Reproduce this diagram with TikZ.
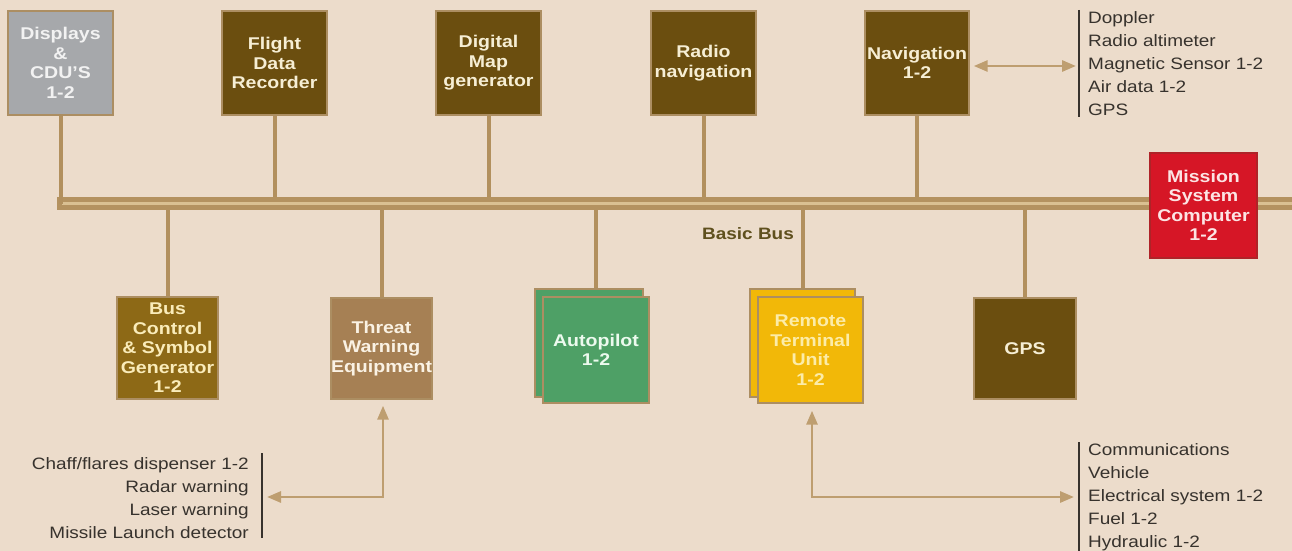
\documentclass[tikz,border=0pt]{standalone}
\usepackage{fontspec}
\setmainfont[FakeStretch=1.15]{Liberation Sans}
\usetikzlibrary{arrows.meta}
\definecolor{bg}{RGB}{236,220,203}
\definecolor{bustan}{RGB}{180,146,96}
\definecolor{buslight}{RGB}{218,192,146}
\definecolor{linetan}{RGB}{178,144,94}
\definecolor{arrowtan}{RGB}{190,158,112}
\definecolor{boxedge}{RGB}{172,142,98}
\definecolor{darkbrown}{RGB}{107,78,15}
\definecolor{greybox}{RGB}{166,168,171}
\definecolor{busctrl}{RGB}{141,105,22}
\definecolor{threatc}{RGB}{166,128,84}
\definecolor{greenbox}{RGB}{78,160,102}
\definecolor{yellowbox}{RGB}{242,184,8}
\definecolor{redbox}{RGB}{214,22,38}
\definecolor{rededge}{RGB}{175,35,40}
\definecolor{cream}{RGB}{246,238,212}
\definecolor{listtext}{RGB}{55,50,45}
\definecolor{buslabel}{RGB}{95,80,30}
\definecolor{greytext}{RGB}{242,242,242}
\definecolor{redtext}{RGB}{252,228,228}
\definecolor{bcstext}{RGB}{250,236,186}
\definecolor{thrtext}{RGB}{250,242,228}
\definecolor{aptext}{RGB}{236,250,238}
\definecolor{rtutext}{RGB}{252,236,168}
\tikzset{
  unit/.style={rectangle, minimum width=105pt, minimum height=104pt, inner sep=0pt,
    draw=boxedge, line width=1.4pt, align=center,
    font=\bfseries\fontsize{17}{19.5}\selectfont, text=cream},
  stub/.style={draw=linetan, line width=4pt},
  tanarrow/.style={draw=arrowtan, line width=2.8pt,
    {Triangle[length=14pt,width=11pt]}-{Triangle[length=14pt,width=11pt]}},
  listbar/.style={draw=listtext, line width=2.6pt},
  lst/.style={inner sep=0pt, font=\fontsize{16.5}{23}\selectfont, text=listtext}
}
\begin{document}
\begin{tikzpicture}[x=1pt,y=-1pt]
\fill[bg] (0,0) rectangle (1292,551);
\useasboundingbox (0,0) rectangle (1292,551);

% bus
\coordinate (bustop) at (0,197);
\coordinate (busbot) at (0,210);
\coordinate (busmid) at (0,203.5);
\fill[bustan] (57,197) rectangle (1292,210);
\draw[buslight, line width=3pt] (62,203.5) -- (1292,203.5);

% top units
\node[unit, fill=greybox, text=greytext] (disp) at (60.5,63) {Displays\\\&\\CDU'S\\1-2};
\node[unit, fill=darkbrown] (fdr) at (274.5,63) {Flight\\Data\\Recorder};
\node[unit, fill=darkbrown] (dmg) at (488.5,63) {Digital\\Map\\generator};
\node[unit, fill=darkbrown] (rnav) at (703.5,63) {Radio\\navigation};
\node[unit, fill=darkbrown, minimum width=104pt] (nav) at (917,63) {Navigation\\1-2};

\draw[stub] (disp.south) -- (disp.south |- busmid);
\draw[stub] (fdr.south) -- (fdr.south |- bustop);
\draw[stub] (dmg.south) -- (dmg.south |- bustop);
\draw[stub] (rnav.south) -- (rnav.south |- bustop);
\draw[stub] (nav.south) -- (nav.south |- bustop);

% mission computer
\node[unit, fill=redbox, draw=rededge, minimum width=107pt, minimum height=105pt, text=redtext] (msc) at (1203.5,205.5) {Mission\\System\\Computer\\1-2};

\node[font=\bfseries\fontsize{16.5}{19}\selectfont, text=buslabel, inner sep=0pt] (buslbl) at (748,234) {Basic Bus};

% bottom units
\node[unit, fill=busctrl, minimum width=101pt, minimum height=102pt, text=bcstext] (bcs) at (167.5,348) {Bus\\Control\\\& Symbol\\Generator\\1-2};
\node[unit, fill=threatc, minimum width=101pt, minimum height=101pt, text=thrtext] (thr) at (381.5,348.5) {Threat\\Warning\\Equipment};
\node[unit, fill=greenbox, minimum width=108pt, minimum height=108pt] (apback) at (589,343) {};
\node[unit, fill=greenbox, minimum width=106pt, minimum height=106pt, text=aptext] (ap) at (596,350) {Autopilot\\1-2};
\node[unit, fill=yellowbox, minimum width=105pt, minimum height=108pt] (rtuback) at (802.5,343) {};
\node[unit, fill=yellowbox, minimum width=105pt, minimum height=106pt, text=rtutext] (rtu) at (810.5,350) {Remote\\Terminal\\Unit\\1-2};
\node[unit, fill=darkbrown, minimum width=102pt, minimum height=101pt] (gps) at (1025,348.5) {GPS};

\draw[stub] (bcs.north) -- (bcs.north |- busbot);
\draw[stub] (thr.north) -- (thr.north |- busbot);
\draw[stub] (apback.north -| ap.north) -- (ap.north |- busbot);
\draw[stub] (rtuback.north) -- (rtuback.north |- busbot);
\draw[stub] (gps.north) -- (gps.north |- busbot);

% navigation sensors
\coordinate (navbar) at (1079,66);
\draw[listbar] (1079,10) -- (1079,117);
\node[lst, anchor=north west, align=left] (navlist) at (1088,11.5) {Doppler\\Radio altimeter\\Magnetic Sensor 1-2\\Air data 1-2\\GPS};
\draw[tanarrow] ([xshift=4pt]nav.east |- navbar) -- ([xshift=-3pt]navbar);

% threat warning sensors
\coordinate (thrbar) at (262,497);
\draw[listbar] (262,453) -- (262,538);
\node[lst, anchor=north east, align=right] (thrlist) at (249,457) {Chaff/flares dispenser 1-2\\Radar warning\\Laser warning\\Missile Launch detector};
\draw[tanarrow] ([xshift=1.5pt,yshift=-6pt]thr.south) |- ([xshift=5pt]thrbar);

% remote terminal systems
\coordinate (rtubar) at (1079,497);
\draw[listbar] (1079,442) -- (1079,551);
\node[lst, anchor=north west, align=left] (rtulist) at (1088,443) {Communications\\Vehicle\\Electrical system 1-2\\Fuel 1-2\\Hydraulic 1-2};
\draw[tanarrow] ([xshift=1.5pt,yshift=-7pt]rtu.south) |- ([xshift=-5pt]rtubar);
\end{tikzpicture}
\end{document}
